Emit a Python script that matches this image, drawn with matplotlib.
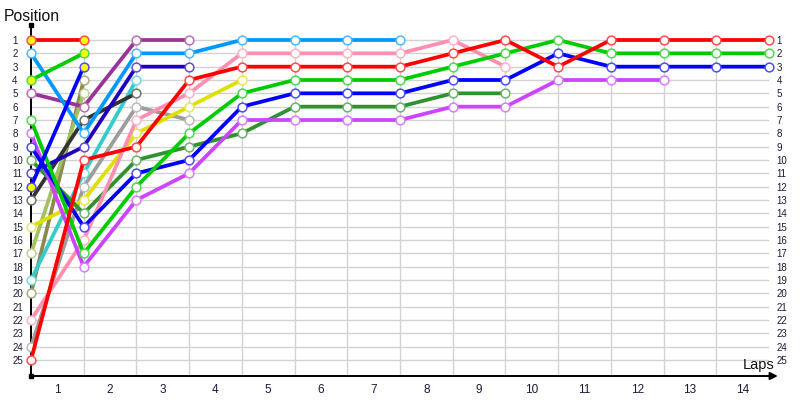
import matplotlib
matplotlib.use("Agg")
import matplotlib.pyplot as plt
from matplotlib.colors import to_rgb

plt.rcParams['font.family'] = ['Liberation Sans', 'DejaVu Sans']

# ---- data: position at each lap (lap 0 = start) ----
pos_red = [25, 10, 9, 4, 3, 3, 3, 3, 2, 1, 3, 1, 1, 1, 1]
pos_green = [7, 17, 12, 8, 5, 4, 4, 4, 3, 2, 1, 2, 2, 2, 2]
pos_blue = [9, 15, 11, 10, 6, 5, 5, 5, 4, 4, 2, 3, 3, 3, 3]
pos_violet = [8, 18, 13, 11, 7, 7, 7, 7, 6, 6, 4, 4, 4]
pos_pink = [22, 16, 7, 5, 2, 2, 2, 2, 1, 3]
pos_darkgreen = [10, 14, 10, 9, 8, 6, 6, 6, 5, 5]
pos_lightblue = [2, 8, 2, 2, 1, 1, 1, 1]
pos_yellow = [15, 13, 8, 6, 4]
pos_gray = [24, 12, 6, 7]
pos_indigo = [11, 9, 3, 3]
pos_purple = [5, 6, 1, 1]
pos_black = [13, 7, 5]
pos_cyan = [19, 11, 4]
pos_olive = [20, 4]
pos_lightolive = [17, 5]
pos_red_hl = [1, 1]
pos_green_hl = [4, 2]
pos_blue_hl = [12, 3]

lap_labels = [str(i) for i in range(1, 15)]
position_labels = [str(i) for i in range(1, 26)]

# (positions, line colour, marker face)
series = [
    (pos_olive, '#8a8a50', 'white'),
    (pos_lightolive, '#a2c262', 'white'),
    (pos_cyan, '#33cccc', 'white'),
    (pos_black, '#333333', 'white'),
    (pos_gray, '#9c9c9c', 'white'),
    (pos_indigo, '#2200bb', 'white'),
    (pos_purple, '#993399', 'white'),
    (pos_yellow, '#e0e000', 'white'),
    (pos_lightblue, '#0099ff', 'white'),
    (pos_darkgreen, '#2e922e', 'white'),
    (pos_pink, '#ff8fb0', 'white'),
    (pos_violet, '#cc44ff', 'white'),
    (pos_blue, '#0000ff', 'white'),
    (pos_green, '#00cc00', 'white'),
    (pos_red, '#ff0000', 'white'),
    (pos_red_hl, '#ff0000', '#ffff00'),
    (pos_green_hl, '#00cc00', '#ffff00'),
    (pos_blue_hl, '#0000ff', '#ffff00'),
]


def lighten(c, f=0.3):
    r, g, b = to_rgb(c)
    return (r + (1 - r) * f, g + (1 - g) * f, b + (1 - b) * f)


fig = plt.figure(figsize=(8, 4), dpi=100)
ax = fig.add_axes([31 / 800, 24 / 400, (769 - 31) / 800, (376 - 25) / 400])
ax.set_xlim(0, 14)
ax.set_ylim(26.2, -0.125)

grid_c = '#d2d2d2'
ax.set_yticks(range(1, 26))
ax.set_yticklabels(position_labels)
ax.yaxis.grid(True, color=grid_c, lw=1, zorder=0)
ax.vlines(range(1, 14), 1, 26.2, color=grid_c, lw=1, zorder=0)
ax.set_axisbelow(True)

ax.set_xticks([i + 0.5 for i in range(14)])
ax.set_xticklabels(lap_labels)
ax.tick_params(axis='x', length=0, pad=5.5, labelsize=8.5, labelcolor='#1a1a3a')
ax.tick_params(axis='y', length=0, pad=13.5, labelsize=7, labelcolor='#1a1a3a')
for lbl in ax.get_yticklabels():
    lbl.set_horizontalalignment('left')

sec = ax.secondary_yaxis('right')
sec.set_yticks(range(1, 26))
sec.set_yticklabels(position_labels)
sec.tick_params(length=0, pad=5.5, labelsize=7, labelcolor='#1a1a3a')
sec.spines['right'].set_visible(False)

for s in ['top', 'right']:
    ax.spines[s].set_visible(False)
for s in ['left', 'bottom']:
    ax.spines[s].set_linewidth(1.4)
    ax.spines[s].set_color('black')

for pos, col, face in series:
    laps = list(range(len(pos)))
    ax.plot(laps, pos, color=col, lw=2.7, marker='o', ms=6.3,
            mfc=face, mec=lighten(col), mew=1.1, zorder=3, clip_on=False,
            solid_joinstyle='round')

# axis end dots and arrow
ax.plot([0, 0], [-0.125, 26.2], ls='none', marker='s', ms=2.5, color='black',
        clip_on=False, zorder=5)
ax.annotate('', xy=(14.22, 26.2), xytext=(13.9, 26.2),
            arrowprops=dict(arrowstyle='-|>', mutation_scale=11, color='black', lw=1.4),
            annotation_clip=False)

fig.text(4 / 800, 1 - 21 / 400, 'Position', ha='left', va='baseline', fontsize=11.3, color='#111111')
fig.text(774 / 800, 1 - 369 / 400, 'Laps', ha='right', va='baseline', fontsize=10.5, color='#111111')

fig.savefig('out.png', dpi=100)
